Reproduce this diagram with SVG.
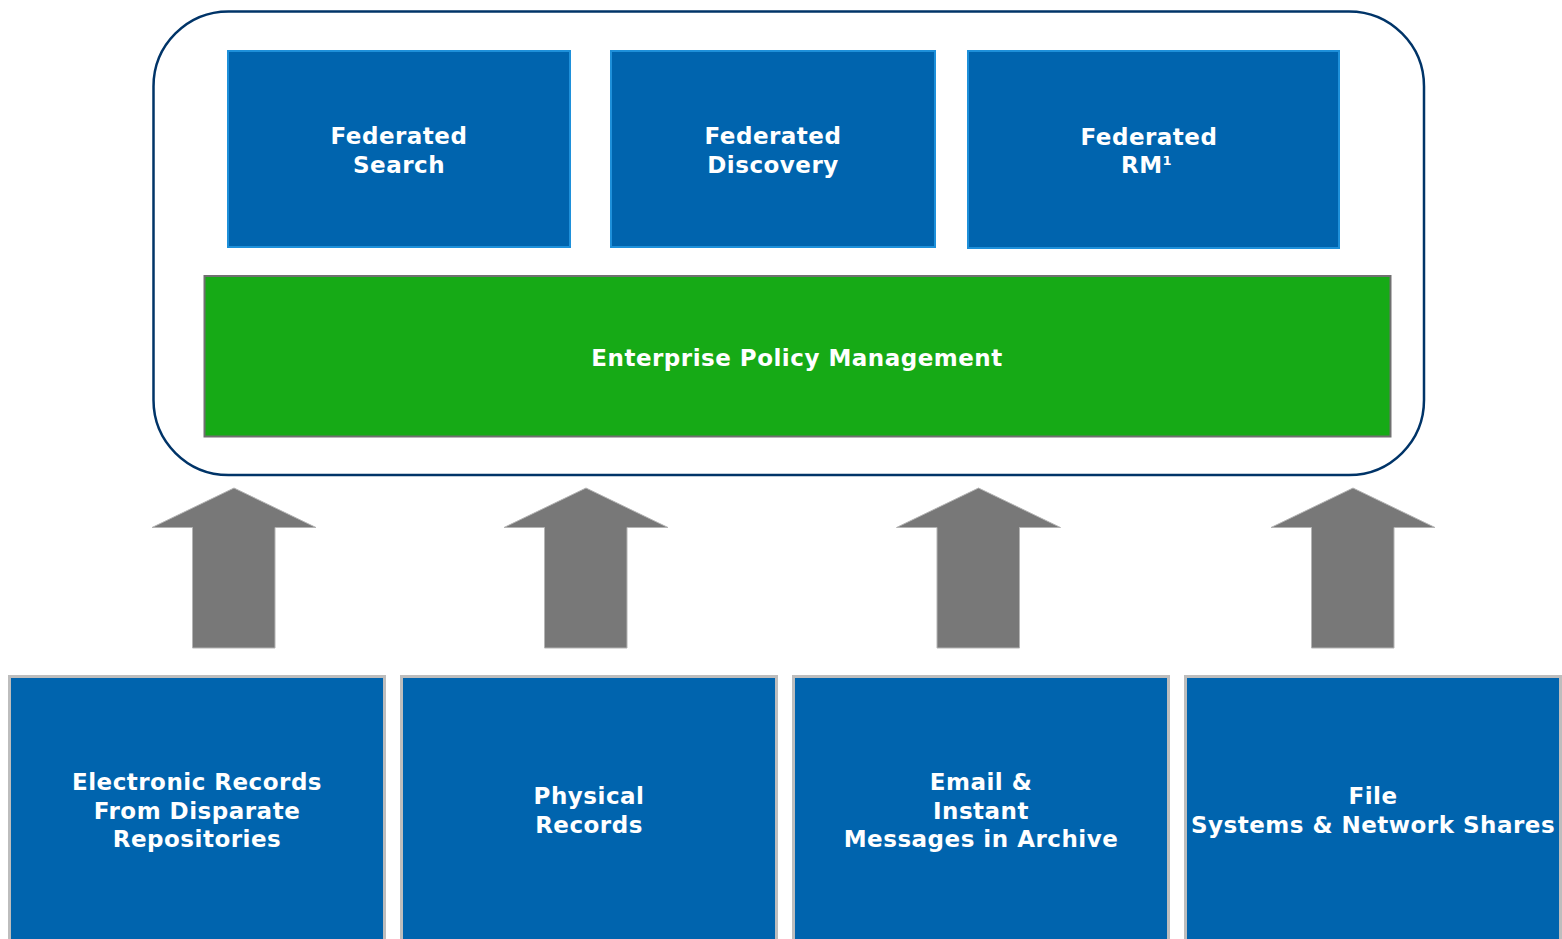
<svg xmlns="http://www.w3.org/2000/svg" width="1562" height="939" viewBox="0 0 1562 939">
<style>
.lbl{font-family:"DejaVu Sans",Verdana,sans-serif;font-weight:bold;font-size:23px;letter-spacing:0.5px;fill:#ffffff;text-anchor:middle}
.top{fill:#0064AE;stroke:#1E90DA;stroke-width:2}
.bot{fill:#0064AE;stroke:#BDBDBD;stroke-width:3}
.arr{fill:#787878;stroke:#B4B4B4;stroke-width:1}
</style>
<rect width="1562" height="939" fill="#ffffff"/>
<g id="container">
<rect x="153.5" y="11.5" width="1270.5" height="463.5" rx="75" ry="75" fill="#ffffff" stroke="#003468" stroke-width="2.5"/>
</g>
<g id="federated-search">
<rect class="top" x="228" y="51" width="342" height="196"/>
<text class="lbl" x="399" y="144">Federated</text>
<text class="lbl" x="399" y="173">Search</text>
</g>
<g id="federated-discovery">
<rect class="top" x="611" y="51" width="324" height="196"/>
<text class="lbl" x="773" y="144">Federated</text>
<text class="lbl" x="773" y="173">Discovery</text>
</g>
<g id="federated-rm">
<rect class="top" x="968" y="51" width="371" height="197"/>
<text class="lbl" x="1149" y="145">Federated</text>
<text class="lbl" x="1121" y="173" style="text-anchor:start">RM<tspan font-size="13" dy="-8">1</tspan></text>
</g>
<g id="enterprise-policy">
<rect x="204.5" y="276" width="1186" height="160.5" fill="#16AA16" stroke="#707070" stroke-width="2"/>
<text class="lbl" x="797" y="366">Enterprise Policy Management</text>
</g>
<g id="connectors">
<polygon class="arr" points="234,488 316,527.5 275,527.5 275,648 192.5,648 192.5,527.5 152,527.5"/>
<polygon class="arr" points="586,488 668,527.5 627,527.5 627,648 544.5,648 544.5,527.5 504,527.5"/>
<polygon class="arr" points="978.5,488 1060.5,527.5 1019.5,527.5 1019.5,648 937,648 937,527.5 896.5,527.5"/>
<polygon class="arr" points="1353,488 1435,527.5 1394,527.5 1394,648 1311.5,648 1311.5,527.5 1271,527.5"/>
</g>
<g id="electronic-records">
<rect class="bot" x="9.5" y="676.5" width="375" height="280"/>
<text class="lbl" x="197" y="790">Electronic Records</text>
<text class="lbl" x="197" y="818.5">From Disparate</text>
<text class="lbl" x="197" y="847">Repositories</text>
</g>
<g id="physical-records">
<rect class="bot" x="401.5" y="676.5" width="375" height="280"/>
<text class="lbl" x="589" y="804">Physical</text>
<text class="lbl" x="589" y="833">Records</text>
</g>
<g id="email-im">
<rect class="bot" x="793.5" y="676.5" width="375" height="280"/>
<text class="lbl" x="981" y="790">Email &amp;</text>
<text class="lbl" x="981" y="818.5">Instant</text>
<text class="lbl" x="981" y="847">Messages in Archive</text>
</g>
<g id="file-systems">
<rect class="bot" x="1185.5" y="676.5" width="375" height="280"/>
<text class="lbl" x="1373" y="804">File</text>
<text class="lbl" x="1373" y="833">Systems &amp; Network Shares</text>
</g>
</svg>
